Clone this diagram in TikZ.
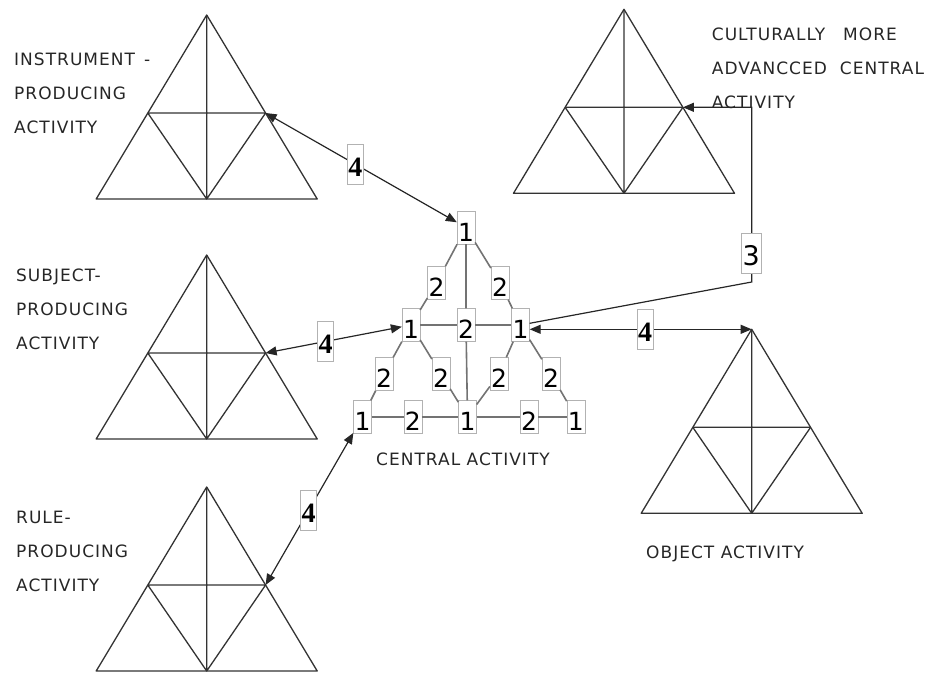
\documentclass[tikz,border=0pt]{standalone}
\usepackage{fontspec}
\usetikzlibrary{arrows.meta}

\newfontfamily\labelfont[LetterSpace=6]{DejaVu Sans}
\newfontfamily\digitfont{DejaVu Sans}
\newfontfamily\linkfont{Liberation Serif}

\tikzset{
  tri/.style={draw=black!80, line width=1.3pt, line join=round},
  % one activity triangle, apex at the pic origin
  acttri/.pic={
    \coordinate (-t) at (0,0);
    \coordinate (-l) at (-58.9,98);
    \coordinate (-r) at (58.9,98);
    \coordinate (-b) at (0,184);
    \draw[tri] (-t) -- (-110.5,184) -- (110.5,184) -- cycle;
    \draw[tri] (-l) -- (-r) (-t) -- (-b) (-l) -- (-b) -- (-r);
  }
}

\begin{document}
\begin{tikzpicture}[x=1pt, y=-1pt,
    web/.style={draw=black!55, line width=1.6pt},
    numbox/.style={draw=black!30, fill=white, font=\digitfont\fontsize{25}{25}\selectfont,
      inner xsep=1pt, inner ysep=0pt, text height=30pt, text depth=3pt},
    linkbox/.style={numbox, font=\linkfont\bfseries\fontsize{28}{28}\selectfont,
      text height=32pt, text depth=8pt},
    lbl/.style={font=\labelfont\fontsize{17}{34}\selectfont, text=black!85, align=left,
      inner sep=0pt, anchor=north west},
    dbl/.style={{Triangle[length=11pt,width=9pt]}-{Triangle[length=11pt,width=9pt]},
      line width=1.2pt, draw=black!85},
    one/.style={-{Triangle[length=11pt,width=9pt]}, line width=1.2pt, draw=black!85}
  ]
    \useasboundingbox (0,0) rectangle (927,675);

    % outer activities
    \pic (ins) at (206.7,15) {acttri};
    \pic (sub) at (206.7,255) {acttri};
    \pic (rul) at (206.7,487) {acttri};
    \pic (cul) at (624,9.3) {acttri};
    \pic (obj) at (751.7,329.3) {acttri};

    \node[lbl] (l-ins) at (14,52.5) {INSTRUMENT\hspace{9pt}-\\PRODUCING\\ACTIVITY};
    \node[lbl] (l-sub) at (16,268.5) {SUBJECT-\\PRODUCING\\ACTIVITY};
    \node[lbl] (l-rul) at (16,510.5) {RULE-\\PRODUCING\\ACTIVITY};
    \node[lbl] (l-cul) at (711.7,27.5) {CULTURALLY\hspace{18pt}MORE\\ADVANCCED\hspace{13pt}CENTRAL\\ACTIVITY};
    \node[lbl, anchor=base west] (l-obj) at (646,558) {OBJECT\ ACTIVITY};

    % central activity
    \node[numbox] (c-top) at (466,227.5) {1};
    \node[numbox] (c-ml) at (411,325) {1};
    \node[numbox] (c-mr) at (520.5,325) {1};
    \node[numbox] (c-bl) at (362.5,417) {1};
    \node[numbox] (c-bm) at (467.5,417) {1};
    \node[numbox] (c-br) at (575.8,417) {1};

    \node[numbox] (e-tl) at (436.5,283) {2};
    \node[numbox] (e-tr) at (500,283) {2};
    \node[numbox] (e-mm) at (466,325) {2};
    \node[numbox] (e-ll) at (384,374) {2};
    \node[numbox] (e-li) at (441,374) {2};
    \node[numbox] (e-ri) at (499,374) {2};
    \node[numbox] (e-rr) at (551,374) {2};
    \node[numbox] (e-bl) at (412.8,417) {2};
    \node[numbox] (e-br) at (529,417) {2};

    \draw[web] (c-top) -- (e-tl) -- (c-ml) -- (e-ll) -- (c-bl);
    \draw[web] (c-top) -- (e-tr) -- (c-mr) -- (e-rr) -- (c-br);
    \draw[web] (c-bl) -- (e-bl) -- (c-bm) -- (e-br) -- (c-br);
    \draw[web] (c-ml) -- (e-mm) -- (c-mr);
    \draw[web] (c-top) -- (e-mm) -- (c-bm);
    \draw[web] (c-ml) -- (e-li) -- (c-bm);
    \draw[web] (c-mr) -- (e-ri) -- (c-bm);

    \node[lbl, anchor=base] (l-cen) at (463,465) {CENTRAL\ ACTIVITY};

    % links
    \draw[dbl] (ins-r) -- node[linkbox, pos=0.47] (n-ins) {4} (c-top);
    \draw[dbl] (sub-r) -- node[linkbox, pos=0.44] (n-sub) {4} (c-ml);
    \draw[dbl] (rul-r) -- node[linkbox, pos=0.49] (n-rul) {4} (c-bl);
    \draw[dbl] (c-mr.east |- obj-t) -- node[linkbox, pos=0.52] (n-obj) {4} (obj-t);

    \coordinate (k3) at (751.7,282);
    \draw[one] (c-mr) -- (k3) |- (cul-r);
    \node[linkbox, font=\digitfont\fontsize{27}{27}\selectfont] (n-cul) at (751.2,253) {3};
  \end{tikzpicture}
\end{document}
